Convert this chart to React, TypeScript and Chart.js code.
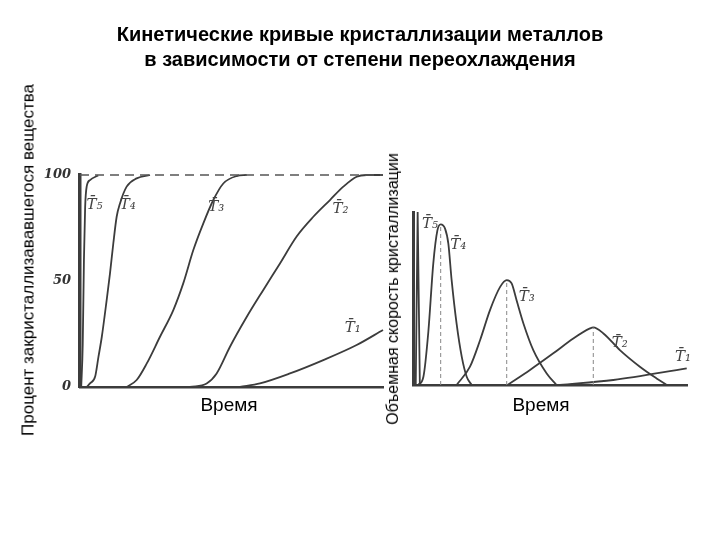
import React, { useEffect, useRef } from "react";
import { Chart, registerables } from "chart.js";

Chart.register(...registerables);

// ---------- Left chart: percent crystallized vs time ----------
const leftYTicks = [0, 50, 100];
const t5LeftX = [0.4, 0.9, 1.3, 1.7, 2.2, 3.3, 6];
const t5LeftY = [0, 20, 60, 85, 94.5, 97.6, 99.8];
const t4LeftX = [2.2, 3.3, 5.0, 6.1, 7.2, 8.8, 9.9, 11.0, 12.1, 13.2, 15.4, 18.7, 23.1];
const t4LeftY = [0, 1.7, 4.9, 14.3, 23.7, 41, 53.6, 67.8, 80.3, 86.6, 94.5, 98.4, 100];
const t3LeftX = [15.4, 18.7, 22, 26.4, 30.8, 34.1, 37.4, 40.7, 44, 47.3, 51.7, 55];
const t3LeftY = [0, 3.3, 11, 23.7, 36.3, 49, 64.6, 77.2, 88.2, 96, 99.5, 100];
const t2LeftX = [36.3, 41.8, 45.1, 49.5, 55, 60.5, 66, 71.5, 77, 82.5, 86.9, 91.3, 94.6, 100];
const t2LeftY = [0, 1.7, 6.4, 19, 33, 45.8, 58.3, 71, 80.3, 88.2, 94.5, 99.2, 100, 100];
const t1LeftX = [52.8, 59.4, 69.3, 80.3, 91.3, 100];
const t1LeftY = [0, 1.7, 6.4, 12.7, 19.8, 26.9];
const fullLevelX = [0, 100];
const fullLevelY = [100, 100];

const leftLabelText = ["T̄₅", "T̄₄", "T̄₃", "T̄₂", "T̄₁"];
const leftLabelX = [4.8, 15.8, 45, 86, 90];
const leftLabelY = [86, 86, 85, 84, 28];

// ---------- Right chart: volumetric crystallization rate vs time ----------
const t5RightX = [1.0, 1.7, 2.5];
const t5RightY = [0, 100, 0];
const t4RightX = [1.9, 3.8, 5.6, 7.4, 8.9, 10.1, 11.7, 12.9, 14.1, 15.9, 17.8, 19.6, 21.4];
const t4RightY = [0, 4.8, 30.8, 70.2, 89.4, 92.9, 90.4, 81.7, 60.6, 35.6, 16.3, 4.8, 0];
const t3RightX = [15.9, 20.8, 24.5, 28.1, 31.8, 34.2, 36, 37.8, 40.3, 43.9, 48.8, 52.4];
const t3RightY = [0, 10.6, 26, 43.3, 56.7, 60.6, 58.7, 49, 35.6, 20.2, 6.7, 0];
const t2RightX = [34.5, 42.7, 51.2, 58.5, 64.6, 65.8, 69.5, 75.5, 82.8, 88.9, 92.6];
const t2RightY = [0, 8.7, 18.3, 26.9, 32.7, 33.3, 29.8, 20.2, 10.6, 3.8, 0];
const t1RightX = [53.6, 73.1, 99.9];
const t1RightY = [0, 2.9, 9.6];
const peakX = [10.1, 34.2, 65.8];
const peakY = [92.9, 60.6, 33.3];

const rightLabelText = ["T̄₅", "T̄₄", "T̄₃", "T̄₂", "T̄₁"];
const rightLabelX = [6.2, 16.5, 41.5, 75.5, 98.5];
const rightLabelY = [93, 81, 51, 24, 16];

const titleLines = [
  "Кинетические кривые кристаллизации металлов",
  "в зависимости от степени переохлаждения",
];
const leftAxisTitle = "Процент закристаллизававшегося вещества";
const rightAxisTitle = "Объемная скорость кристаллизации";
const timeTitle = "Время";

const LINE = "#3c3c3c";

function pts(xs: number[], ys: number[]) {
  return xs.map((x, i) => ({ x, y: ys[i] }));
}

function curve(xs: number[], ys: number[], extra: any = {}) {
  return {
    data: pts(xs, ys),
    borderColor: LINE,
    borderWidth: 1.8,
    pointRadius: 0,
    cubicInterpolationMode: "monotone",
    fill: false,
    clip: false,
    ...extra,
  };
}

function labelPlugin(texts: string[], xs: number[], ys: number[]) {
  return {
    id: "curveLabels",
    afterDatasetsDraw(chart: any) {
      const ctx = chart.ctx;
      const sx = chart.scales.x;
      const sy = chart.scales.y;
      ctx.save();
      ctx.fillStyle = "#444";
      ctx.font = "italic 15px 'DejaVu Serif'";
      ctx.textAlign = "center";
      ctx.textBaseline = "middle";
      texts.forEach((t, i) => {
        ctx.fillText(t, sx.getPixelForValue(xs[i]), sy.getPixelForValue(ys[i]));
      });
      ctx.restore();
    },
  };
}

function LeftChart() {
  const ref = useRef<HTMLCanvasElement | null>(null);
  useEffect(() => {
    if (!ref.current) return;
    const chart = new Chart(ref.current, {
      type: "line",
      data: {
        datasets: [
          curve(fullLevelX, fullLevelY, {
            borderDash: [9, 6],
            borderWidth: 1.5,
            borderColor: "#555",
            cubicInterpolationMode: "default",
            tension: 0,
          }),
          curve(t5LeftX, t5LeftY),
          curve(t4LeftX, t4LeftY),
          curve(t3LeftX, t3LeftY),
          curve(t2LeftX, t2LeftY),
          curve(t1LeftX, t1LeftY),
        ] as any,
      },
      options: {
        animation: false,
        responsive: false,
        events: [],
        layout: { padding: { left: 0, right: 337, top: 175, bottom: 153 } },
        plugins: { legend: { display: false }, tooltip: { enabled: false } },
        scales: {
          x: {
            type: "linear",
            min: 0,
            max: 100,
            grid: { display: false },
            ticks: { display: false },
            border: { display: true, width: 2.5, color: LINE },
            afterFit: (s: any) => {
              s.height = 0;
            },
          },
          y: {
            type: "linear",
            min: 0,
            max: 100,
            afterBuildTicks: (s: any) => {
              s.ticks = leftYTicks.map((v) => ({ value: v }));
            },
            grid: { display: false, drawTicks: false },
            ticks: {
              padding: 9,
              color: "#333",
              font: { family: "'DejaVu Serif'", size: 13, style: "italic", weight: "bold" },
            },
            border: { display: true, width: 3.5, color: LINE },
            afterFit: (s: any) => {
              s.width = 80;
            },
          },
        },
      },
      plugins: [labelPlugin(leftLabelText, leftLabelX, leftLabelY)],
    } as any);
    return () => chart.destroy();
  }, []);
  return (
    <canvas
      ref={ref}
      width={720}
      height={540}
      style={{ position: "absolute", left: 0, top: 0, width: 720, height: 540 }}
    />
  );
}

function RightChart() {
  const ref = useRef<HTMLCanvasElement | null>(null);
  useEffect(() => {
    if (!ref.current) return;
    const peakLines = peakX.map((x, i) =>
      curve([x, x], [0, peakY[i]], {
        borderDash: [4, 3],
        borderWidth: 1,
        borderColor: "#888",
        cubicInterpolationMode: "default",
        tension: 0,
      })
    );
    const chart = new Chart(ref.current, {
      type: "line",
      data: {
        datasets: [
          ...peakLines,
          curve(t5RightX, t5RightY, { cubicInterpolationMode: "default", tension: 0 }),
          curve(t4RightX, t4RightY),
          curve(t3RightX, t3RightY),
          curve(t2RightX, t2RightY),
          curve(t1RightX, t1RightY),
        ] as any,
      },
      options: {
        animation: false,
        responsive: false,
        events: [],
        layout: { padding: { left: 413, right: 33, top: 212, bottom: 155 } },
        plugins: { legend: { display: false }, tooltip: { enabled: false } },
        scales: {
          x: {
            type: "linear",
            min: 0,
            max: 100,
            grid: { display: false },
            ticks: { display: false },
            border: { display: true, width: 2.5, color: LINE },
            afterFit: (s: any) => {
              s.height = 0;
            },
          },
          y: {
            type: "linear",
            min: 0,
            max: 100,
            grid: { display: false },
            ticks: { display: false },
            border: { display: true, width: 3, color: LINE },
            afterFit: (s: any) => {
              s.width = 0;
            },
          },
        },
      },
      plugins: [labelPlugin(rightLabelText, rightLabelX, rightLabelY)],
    } as any);
    return () => chart.destroy();
  }, []);
  return (
    <canvas
      ref={ref}
      width={720}
      height={540}
      style={{ position: "absolute", left: 0, top: 0, width: 720, height: 540 }}
    />
  );
}

const textBase: React.CSSProperties = {
  position: "absolute",
  fontFamily: "'Liberation Sans', Arial, sans-serif",
  color: "#000",
  whiteSpace: "nowrap",
};

function VerticalText({ text, cx, cy, size }: { text: string; cx: number; cy: number; size: number }) {
  return (
    <div
      style={{
        ...textBase,
        left: cx,
        top: cy,
        fontSize: size,
        lineHeight: "1",
        transform: "translate(-50%, -50%) rotate(-90deg)",
      }}
    >
      {text}
    </div>
  );
}

export default function App() {
  return (
    <div
      style={{
        position: "fixed",
        left: 0,
        top: 0,
        width: 720,
        height: 540,
        background: "#fff",
        overflow: "hidden",
      }}
    >
      <LeftChart />
      <RightChart />
      <div
        style={{
          ...textBase,
          left: 0,
          top: 22,
          width: 720,
          textAlign: "center",
          fontWeight: "bold",
          fontSize: 20,
          lineHeight: "25px",
        }}
      >
        {titleLines.map((l, i) => (
          <div key={i}>{l}</div>
        ))}
      </div>
      <VerticalText text={leftAxisTitle} cx={28} cy={260} size={17} />
      <VerticalText text={rightAxisTitle} cx={393} cy={289} size={16} />
      <div style={{ ...textBase, left: 229, top: 405, fontSize: 19, transform: "translate(-50%, -50%)" }}>
        {timeTitle}
      </div>
      <div style={{ ...textBase, left: 541, top: 405, fontSize: 19, transform: "translate(-50%, -50%)" }}>
        {timeTitle}
      </div>
    </div>
  );
}
